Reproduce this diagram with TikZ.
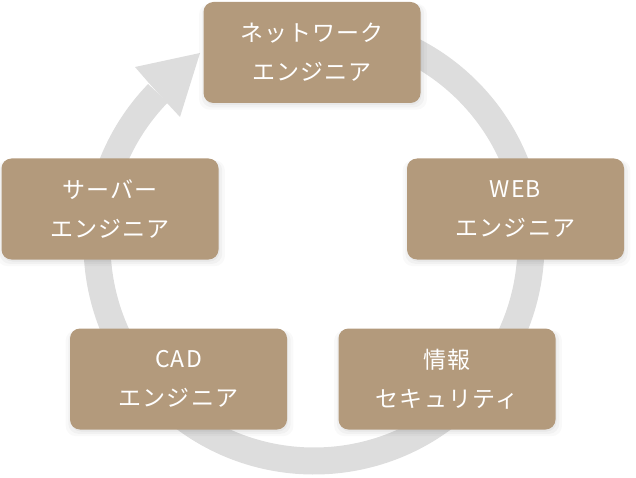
\documentclass[tikz,border=0pt]{standalone}
\usepackage{fontspec}
\newfontfamily\jpfont[LetterSpace=5]{Noto Sans CJK JP}
\usetikzlibrary{shadows}
\definecolor{boxbrown}{HTML}{B39A7C}
\definecolor{ringgray}{HTML}{DDDDDD}
\begin{document}
\begin{tikzpicture}[x=1pt,y=-1pt,
  card/.style={fill=boxbrown, rounded corners=10pt, minimum width=217pt,
    minimum height=101pt, inner sep=0pt, text=white, align=center,
    font=\jpfont\fontsize{23}{39}\selectfont,
    general shadow={fill=black, opacity=0.025, shadow xshift=1pt, shadow yshift=-4pt, shadow scale=1.05},
    general shadow={fill=black, opacity=0.03, shadow xshift=1pt, shadow yshift=-3pt, shadow scale=1.025},
    general shadow={fill=black, opacity=0.04, shadow xshift=1pt, shadow yshift=-2pt}},
  ring/.style={draw=ringgray, line width=27pt},
  head/.style={fill=ringgray}]
\useasboundingbox (0,0) rectangle (636,478);
\coordinate (c) at (314,244);
\draw[ring] ([shift={(-136:217)}]c) arc[start angle=-136, end angle=-450, radius=217];
\fill[head] (200,53) -- (135,67) -- (148,82) -- (167,103) -- (180,117) -- cycle;
\node[card] (net) at (312,52.5) {ネットワーク\\エンジニア};
\node[card] (srv) at (110,209) {サーバー\\エンジニア};
\node[card] (web) at (515.5,209) {WEB\\エンジニア};
\node[card] (cad) at (178.5,379) {CAD\\エンジニア};
\node[card] (sec) at (447,379) {情報\\セキュリティ};
\end{tikzpicture}
\end{document}
